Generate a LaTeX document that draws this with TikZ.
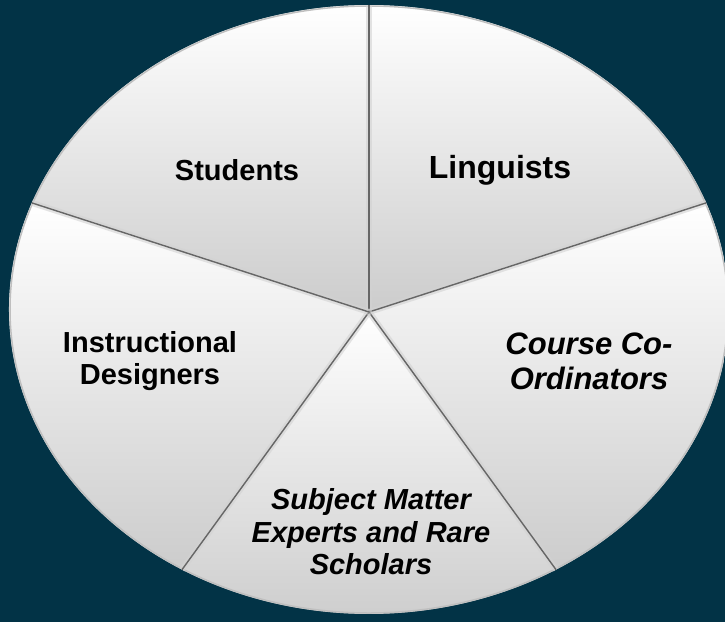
\documentclass[tikz,border=0pt]{standalone}
\usepackage{fontspec}
\setmainfont{Liberation Sans}
\usepackage{tikz}
\usetikzlibrary{%
  calc,%
  positioning%
}
\definecolor{bgteal}{RGB}{2,51,70}
\newcommand{\lbl}[1]{\fontsize{#1}{1.12\dimexpr#1pt\relax}\selectfont\bfseries}

\begin{document}
\begin{tikzpicture}[x=1pt, y=-1pt,
  slice/.style={top color=white, bottom color=gray!40, shading angle=0},
  seam/.style={line width=6pt, gray!35, opacity=0.6},
  seamline/.style={line width=1.4pt, black!60},
  rim/.style={line width=1.5pt, gray!50},
  label/.style={align=center, text=black}]
\fill[bgteal] (0,0) rectangle (725,622);
\useasboundingbox (0,0) rectangle (725,622);
\clip (0,0) rectangle (725,622);

\coordinate (E) at (369,309.5);
\coordinate (O) at (369,312);
\foreach \a [count=\i] in {-90,-20.5,58.7,121.3,200.5,270}
  \coordinate (p\i) at ($(E)+(\a:360 and 304.5)$);

% slices
\shade[slice] (O) -- (p1) arc[start angle=-90, end angle=-20.5, x radius=360, y radius=304.5] -- cycle;
\shade[slice] (O) -- (p2) arc[start angle=-20.5, end angle=58.7, x radius=360, y radius=304.5] -- cycle;
\shade[slice] (O) -- (p3) arc[start angle=58.7, end angle=121.3, x radius=360, y radius=304.5] -- cycle;
\shade[slice] (O) -- (p4) arc[start angle=121.3, end angle=200.5, x radius=360, y radius=304.5] -- cycle;
\shade[slice] (O) -- (p5) arc[start angle=200.5, end angle=270, x radius=360, y radius=304.5] -- cycle;

\draw[rim] (E) ellipse [x radius=359, y radius=303.5];
\foreach \i in {1,...,5} {
  \draw[seam] (O) -- (p\i);
  \draw[seamline] (O) -- (p\i);
}

\node[label, font=\lbl{29}] (students) at (237,170) {Students};
\node[label, font=\lbl{32}] (linguists) at (500,170) {Linguists};
\node[label, font=\lbl{29}] (designers) at (150,361) {Instructional\\Designers};
\node[label, font=\lbl{31}\itshape] (coord) at (589,361) {Course Co-\\Ordinators};
\node[label, font=\lbl{29}\itshape] (experts) at (371,532) {Subject Matter\\Experts and Rare\\Scholars};
\end{tikzpicture}
\end{document}
